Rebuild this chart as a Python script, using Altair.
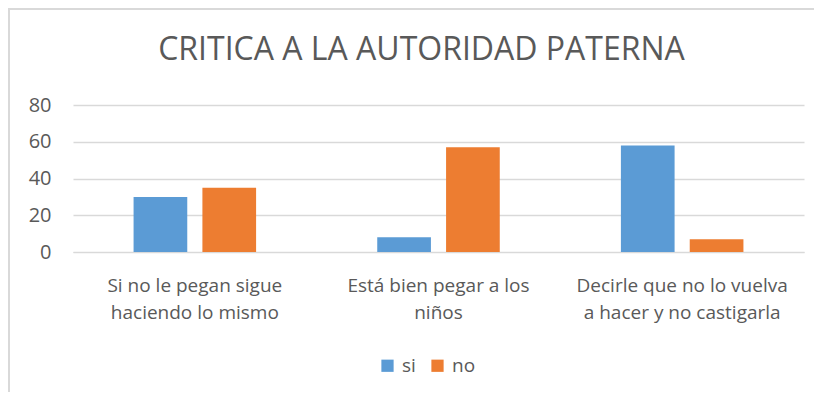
import altair as alt
import pandas as pd

categories = [
    "Si no le pegan sigue\nhaciendo lo mismo",
    "Está bien pegar a los\nniños",
    "Decirle que no lo vuelva\na hacer y no castigarla",
]
series = ["si", "no"]
si_values = [30, 8, 58]
no_values = [35, 57, 7]
y_ticks = [0, 20, 40, 60, 80]

rows = []
for c, s_v, n_v in zip(categories, si_values, no_values):
    rows.append({"cat": c, "serie": "si", "valor": s_v})
    rows.append({"cat": c, "serie": "no", "valor": n_v})
df = pd.DataFrame(rows)

TXT = "#595959"
FONT = "Open Sans"

bars = alt.Chart(df).mark_bar().encode(
    x=alt.X("cat:N", sort=categories, title=None,
            scale=alt.Scale(paddingInner=0, paddingOuter=0),
            axis=alt.Axis(labelAngle=0, ticks=False, domain=True, domainColor="#d9d9d9",
                          labelExpr="split(datum.label, '\\n')",
                          labelFontSize=19, labelColor=TXT, labelFont=FONT,
                          labelPadding=24, labelLineHeight=27, labelLimit=400)),
    xOffset=alt.XOffset("serie:N", sort=series,
                        scale=alt.Scale(paddingInner=0.22, paddingOuter=0.88)),
    y=alt.Y("valor:Q", title=None,
            scale=alt.Scale(domain=[0, 80], nice=False),
            axis=alt.Axis(values=y_ticks, ticks=False, domain=False, grid=True,
                          gridColor="#d9d9d9", gridWidth=1.5,
                          labelFontSize=20, labelColor=TXT, labelFont=FONT,
                          labelPadding=22)),
    color=alt.Color("serie:N", sort=series,
                    scale=alt.Scale(domain=series, range=["#5B9BD5", "#ED7D31"]),
                    legend=alt.Legend(title=None, orient="none", direction="horizontal",
                                      legendX=305, legendY=251,
                                      symbolType="square", symbolSize=150,
                                      symbolStrokeWidth=0,
                                      labelFontSize=19, labelColor=TXT, labelFont=FONT,
                                      columnPadding=12, labelOffset=5)),
)

border = alt.Chart(pd.DataFrame({"a": [0]})).mark_rect(
    fillOpacity=0, stroke="#d9d9d9", strokeWidth=2
).encode(
    x=alt.value(-64), x2=alt.value(900), y=alt.value(-96), y2=alt.value(500)
)

chart = alt.layer(border, bars).properties(
    width=731, height=147,
    autosize=alt.AutoSizeParams(type="none"),
    padding={"left": 65, "top": 97, "right": 10, "bottom": 140},
    title=alt.TitleParams("CRITICA A LA AUTORIDAD PATERNA", anchor="middle",
                          fontSize=32, font=FONT, fontWeight="normal", color=TXT,
                          offset=-59, dx=-17),
).configure_view(stroke=None)

chart.save("out.html", embed_options={"renderer": "svg", "actions": False})
